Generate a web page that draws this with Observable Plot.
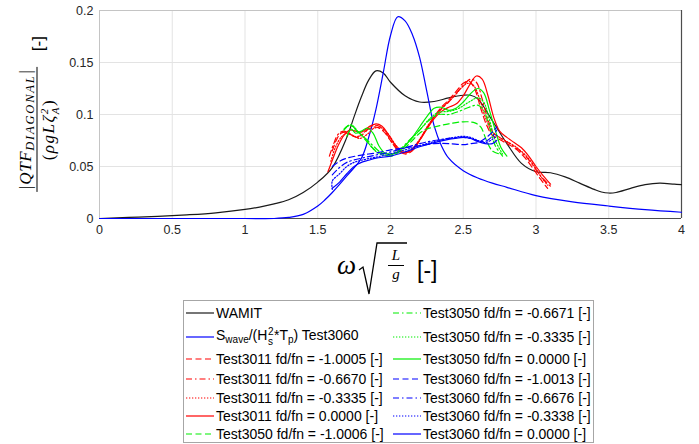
<!DOCTYPE html>
<html>
<head>
<meta charset="utf-8">
<script src="https://cdn.jsdelivr.net/npm/d3@7"></script>
<script src="https://cdn.jsdelivr.net/npm/@observablehq/plot@0.6"></script>
<style>
  body { margin: 0; background: #fff; }
  #wrap { position: relative; width: 699px; height: 444px; overflow: hidden; font-family: "Liberation Sans", Arial, sans-serif; background:#fff; }
  #chart { position: absolute; left: 0; top: 0; }
  #ylab { position: absolute; left: 38px; top: 114px; transform: translate(-50%, -50%) rotate(-90deg);
          display: flex; align-items: center; white-space: nowrap; font-family: "Liberation Serif", serif; color: #000; }
  #ylab .frac { display: flex; flex-direction: column; align-items: center; }
  #ylab .num { font-size: 17px; font-style: italic; line-height: 20px; padding: 0 2px 1px; border-bottom: 1.3px solid #000; letter-spacing: 0.6px; }
  #ylab .num sub { font-size: 12.5px; letter-spacing: 1.8px; vertical-align: -3px; line-height: 0; }
  #ylab .den { font-size: 17px; line-height: 21px; letter-spacing: 1.5px; }
  #ylab .den i { font-style: italic; }
  #ylab .ss { display: inline-flex; flex-direction: column; vertical-align: 6px; font-size: 11px; line-height: 11px; font-style: italic; }
  #ylab .unit { font-family: "Liberation Sans", sans-serif; font-size: 17px; margin-left: 16px; }
  .xl { position: absolute; color: #000; white-space: nowrap; }
  #legend { position: absolute; left: 183px; top: 300px; width: 409px; height: 141px; border: 1px solid #a6a6a6; background: #fff; }
  .lrow { position: absolute; height: 18px; display: flex; align-items: center; font-size: 14px; color: #000; white-space: nowrap; }
  .lrow svg { margin-right: 2px; }
  .hs { display: inline-flex; flex-direction: column; vertical-align: 5px; font-size: 10px; line-height: 10px; margin: 0 0.5px; }
  .lrow sub { font-size: 10px; vertical-align: -3px; line-height: 0; }
</style>
</head>
<body>
<div id="wrap">
  <div id="chart"></div>
  <div id="ylab">
    <div class="frac">
      <div class="num">|QTF<sub>DIAGONAL</sub>|</div>
      <div class="den">(<i>ρgLζ</i><span class="ss"><span>2</span><span>A</span></span>)</div>
    </div>
    <span class="unit">[-]</span>
  </div>
  <div class="xl" style="left:337px;top:252px;font-family:'Liberation Serif',serif;font-style:italic;font-size:27px;line-height:27px;">ω</div>
  <svg class="xl" style="left:357px;top:240px;" width="54" height="58">
    <path d="M2,30 L6,27 L12,54 L20,3 L50,3" fill="none" stroke="#000" stroke-width="1.3"/>
  </svg>
  <div class="xl" style="left:388px;top:248px;width:16px;text-align:center;font-family:'Liberation Serif',serif;font-style:italic;font-size:15px;line-height:15px;">L</div>
  <div class="xl" style="left:388px;top:265px;width:16px;height:0;border-top:1px solid #000;"></div>
  <div class="xl" style="left:388px;top:267px;width:16px;text-align:center;font-family:'Liberation Serif',serif;font-style:italic;font-size:15px;line-height:15px;">g</div>
  <div class="xl" style="left:417px;top:257px;font-family:'Liberation Sans',sans-serif;font-size:23px;line-height:26px;">[-]</div>
  <div id="legend"></div>
</div>
<script>
// ---------- axis ticks ----------
const xTicks = [0, 0.5, 1, 1.5, 2, 2.5, 3, 3.5, 4];
const xTickLabels = ["0", "0.5", "1", "1.5", "2", "2.5", "3", "3.5", "4"];
const yTicks = [0, 0.05, 0.1, 0.15, 0.2];
const yTickLabels = ["0", "0.05", "0.1", "0.15", "0.2"];

// ---------- series values ----------
const wamitX = [0, 0.2, 0.4, 0.6, 0.8, 1.0, 1.1, 1.2, 1.3, 1.4, 1.5, 1.6, 1.7, 1.75, 1.8, 1.85, 1.9, 1.95, 2.0, 2.1, 2.2, 2.3, 2.4, 2.5, 2.55, 2.6, 2.7, 2.8, 2.9, 3.0, 3.1, 3.2, 3.3, 3.4, 3.45, 3.5, 3.55, 3.65, 3.75, 3.85, 3.95, 4.0];
const wamitY = [0, 0.001, 0.002, 0.0035, 0.0055, 0.0087, 0.011, 0.014, 0.018, 0.025, 0.035, 0.049, 0.078, 0.098, 0.117, 0.133, 0.142, 0.140, 0.131, 0.118, 0.112, 0.1125, 0.116, 0.1185, 0.1185, 0.115, 0.094, 0.072, 0.053, 0.045, 0.044, 0.040, 0.034, 0.028, 0.0255, 0.0245, 0.025, 0.029, 0.0325, 0.034, 0.033, 0.0325];

const swaveX = [0, 1.0, 1.2, 1.3, 1.4, 1.5, 1.55, 1.6, 1.7, 1.8, 1.85, 1.9, 1.95, 2.0, 2.05, 2.1, 2.15, 2.2, 2.25, 2.3, 2.35, 2.4, 2.5, 2.6, 2.7, 2.8, 3.0, 3.25, 3.5, 3.75, 4.0];
const swaveY = [0, 0, 0, 0.001, 0.004, 0.012, 0.018, 0.025, 0.041, 0.058, 0.078, 0.105, 0.14, 0.176, 0.194, 0.19, 0.177, 0.155, 0.122, 0.089, 0.07, 0.058, 0.046, 0.039, 0.034, 0.030, 0.022, 0.016, 0.012, 0.0085, 0.006];

const t3011aX = [1.6, 1.63, 1.66, 1.7, 1.75, 1.8, 1.85, 1.9, 1.95, 2.0, 2.05, 2.1, 2.15, 2.2, 2.25, 2.3, 2.35, 2.4, 2.45, 2.5, 2.54, 2.58, 2.62, 2.66, 2.7, 2.75, 2.8, 2.86, 2.92, 2.98, 3.03, 3.08];
const t3011aY = [0.065, 0.076, 0.082, 0.083, 0.079, 0.08, 0.086, 0.088, 0.084, 0.075, 0.066, 0.062, 0.065, 0.075, 0.087, 0.098, 0.107, 0.114, 0.122, 0.13, 0.132, 0.124, 0.106, 0.09, 0.08, 0.076, 0.072, 0.067, 0.059, 0.048, 0.038, 0.029];

const t3011bX = [1.58, 1.61, 1.64, 1.68, 1.72, 1.77, 1.82, 1.87, 1.92, 1.97, 2.02, 2.07, 2.12, 2.17, 2.22, 2.28, 2.34, 2.4, 2.45, 2.5, 2.55, 2.59, 2.63, 2.67, 2.71, 2.76, 2.82, 2.88, 2.94, 3.0, 3.05, 3.1];
const t3011bY = [0.06, 0.072, 0.081, 0.084, 0.081, 0.078, 0.083, 0.089, 0.089, 0.082, 0.071, 0.064, 0.064, 0.07, 0.08, 0.093, 0.104, 0.112, 0.12, 0.128, 0.134, 0.131, 0.115, 0.095, 0.082, 0.077, 0.072, 0.066, 0.058, 0.047, 0.038, 0.031];

const t3011cX = [1.59, 1.62, 1.66, 1.7, 1.74, 1.79, 1.84, 1.89, 1.94, 1.99, 2.04, 2.09, 2.14, 2.2, 2.26, 2.32, 2.38, 2.44, 2.49, 2.53, 2.57, 2.61, 2.65, 2.7, 2.75, 2.8, 2.86, 2.92, 2.98, 3.03, 3.08];
const t3011cY = [0.055, 0.068, 0.078, 0.082, 0.08, 0.077, 0.081, 0.087, 0.087, 0.08, 0.07, 0.064, 0.066, 0.076, 0.09, 0.101, 0.11, 0.118, 0.126, 0.13, 0.128, 0.116, 0.098, 0.083, 0.078, 0.074, 0.069, 0.062, 0.052, 0.041, 0.032];

const t3011dX = [1.57, 1.6, 1.64, 1.68, 1.72, 1.76, 1.8, 1.85, 1.9, 1.94, 1.98, 2.02, 2.06, 2.1, 2.15, 2.2, 2.25, 2.3, 2.35, 2.4, 2.45, 2.5, 2.55, 2.59, 2.63, 2.67, 2.71, 2.75, 2.8, 2.85, 2.9, 2.95, 3.0, 3.05, 3.1];
const t3011dY = [0.045, 0.056, 0.07, 0.08, 0.085, 0.084, 0.083, 0.088, 0.091, 0.089, 0.082, 0.073, 0.066, 0.063, 0.066, 0.075, 0.086, 0.096, 0.103, 0.107, 0.11, 0.118, 0.13, 0.137, 0.134, 0.118, 0.097, 0.084, 0.078, 0.073, 0.068, 0.06, 0.05, 0.041, 0.033];

const t3050aX = [1.68, 1.72, 1.76, 1.8, 1.85, 1.9, 1.95, 2.0, 2.05, 2.1, 2.15, 2.2, 2.25, 2.3, 2.4, 2.5, 2.58, 2.62, 2.66, 2.7, 2.75];
const t3050aY = [0.085, 0.09, 0.086, 0.08, 0.072, 0.065, 0.062, 0.06, 0.063, 0.068, 0.075, 0.082, 0.086, 0.088, 0.091, 0.093, 0.092, 0.088, 0.075, 0.065, 0.062];

const t3050bX = [1.68, 1.72, 1.77, 1.82, 1.88, 1.93, 2.0, 2.06, 2.12, 2.2, 2.27, 2.33, 2.4, 2.47, 2.54, 2.6, 2.64, 2.68, 2.72, 2.77];
const t3050bY = [0.086, 0.09, 0.084, 0.078, 0.07, 0.064, 0.062, 0.066, 0.074, 0.085, 0.095, 0.1, 0.1, 0.103, 0.107, 0.109, 0.104, 0.088, 0.07, 0.06];

const t3050cX = [1.69, 1.73, 1.78, 1.83, 1.88, 1.93, 2.0, 2.06, 2.12, 2.2, 2.27, 2.33, 2.4, 2.47, 2.54, 2.6, 2.64, 2.68, 2.72, 2.77];
const t3050cY = [0.087, 0.09, 0.083, 0.076, 0.067, 0.062, 0.061, 0.065, 0.073, 0.085, 0.096, 0.102, 0.103, 0.106, 0.112, 0.116, 0.112, 0.095, 0.075, 0.062];

const t3050dX = [1.7, 1.73, 1.76, 1.8, 1.84, 1.88, 1.92, 1.96, 2.0, 2.05, 2.1, 2.15, 2.2, 2.25, 2.3, 2.35, 2.4, 2.45, 2.5, 2.55, 2.6, 2.64, 2.68, 2.72, 2.76, 2.8];
const t3050dY = [0.079, 0.086, 0.082, 0.084, 0.087, 0.082, 0.07, 0.063, 0.062, 0.064, 0.07, 0.078, 0.088, 0.098, 0.106, 0.107, 0.104, 0.106, 0.112, 0.12, 0.125, 0.121, 0.104, 0.085, 0.068, 0.06];

const t3060aX = [1.6, 1.65, 1.7, 1.8, 1.9, 2.0, 2.1, 2.2, 2.3, 2.4, 2.5, 2.55, 2.6, 2.65, 2.7, 2.73];
const t3060aY = [0.05, 0.055, 0.058, 0.061, 0.063, 0.066, 0.068, 0.07, 0.072, 0.072, 0.071, 0.072, 0.073, 0.077, 0.083, 0.088];

const t3060bX = [1.6, 1.65, 1.7, 1.8, 1.9, 2.0, 2.1, 2.2, 2.3, 2.4, 2.5, 2.55, 2.6, 2.65, 2.7, 2.73];
const t3060bY = [0.042, 0.049, 0.054, 0.058, 0.061, 0.064, 0.068, 0.072, 0.075, 0.077, 0.078, 0.077, 0.075, 0.074, 0.079, 0.085];

const t3060cX = [1.6, 1.6, 1.65, 1.7, 1.75, 1.8, 1.9, 2.0, 2.1, 2.2, 2.3, 2.4, 2.5, 2.55, 2.6, 2.65, 2.7, 2.73];
const t3060cY = [0.028, 0.036, 0.043, 0.05, 0.054, 0.056, 0.059, 0.062, 0.066, 0.07, 0.074, 0.077, 0.079, 0.078, 0.075, 0.073, 0.076, 0.08];

const t3060dX = [1.6, 1.65, 1.7, 1.75, 1.8, 1.85, 1.9, 2.0, 2.1, 2.2, 2.3, 2.4, 2.5, 2.55, 2.6, 2.65, 2.7, 2.73];
const t3060dY = [0.029, 0.035, 0.043, 0.05, 0.054, 0.056, 0.058, 0.06, 0.064, 0.069, 0.073, 0.076, 0.078, 0.077, 0.074, 0.072, 0.072, 0.075];

// ---------- series labels (legend order, column-major) ----------
const seriesLabels = [
  "WAMIT", "SWAVE",
  "Test3011 fd/fn = -1.0005 [-]", "Test3011 fd/fn = -0.6670 [-]", "Test3011 fd/fn = -0.3335 [-]", "Test3011 fd/fn = 0.0000 [-]",
  "Test3050 fd/fn = -1.0006 [-]", "Test3050 fd/fn = -0.6671 [-]", "Test3050 fd/fn = -0.3335 [-]", "Test3050 fd/fn = 0.0000 [-]",
  "Test3060 fd/fn = -1.0013 [-]", "Test3060 fd/fn = -0.6676 [-]", "Test3060 fd/fn = -0.3338 [-]", "Test3060 fd/fn = 0.0000 [-]"
];
const seriesXs = [wamitX, swaveX, t3011aX, t3011bX, t3011cX, t3011dX, t3050aX, t3050bX, t3050cX, t3050dX, t3060aX, t3060bX, t3060cX, t3060dX];
const seriesYs = [wamitY, swaveY, t3011aY, t3011bY, t3011cY, t3011dY, t3050aY, t3050bY, t3050cY, t3050dY, t3060aY, t3060bY, t3060cY, t3060dY];

// ---------- styles ----------
const RED = "#ff0000", GREEN = "#00ee00", BLUE = "#0000ff", BLACK = "#1a1a1a";
const DASH = "6,3.5", DASHDOT = "6,3,1.5,3", DOT = "1.3,1.7", SOLID = null;
const seriesColors = [BLACK, BLUE, RED, RED, RED, RED, GREEN, GREEN, GREEN, GREEN, BLUE, BLUE, BLUE, BLUE];
const seriesDashes = [SOLID, SOLID, DASH, DASHDOT, DOT, SOLID, DASH, DASHDOT, DOT, SOLID, DASH, DASHDOT, DOT, SOLID];

const seriesData = seriesXs.map((xs, i) => xs.map((x, j) => ({x, y: seriesYs[i][j], s: seriesLabels[i]})));

const lineMarks = seriesData.map((d, i) => Plot.line(d, {
  x: "x", y: "y", stroke: seriesColors[i], strokeWidth: 1.2,
  strokeDasharray: seriesDashes[i] || undefined, curve: "catmull-rom"
}));

const chart = Plot.plot({
  width: 699, height: 240,
  marginLeft: 99, marginRight: 18, marginTop: 10, marginBottom: 22,
  style: { fontFamily: "'Liberation Sans', Arial, sans-serif", fontSize: "12.5px", color: "#262626", background: "transparent", overflow: "visible" },
  x: { domain: [0, 4] },
  y: { domain: [0, 0.2] },
  marks: [
    Plot.gridX(xTicks, { stroke: "#e3e3e3", strokeOpacity: 1 }),
    Plot.gridY(yTicks, { stroke: "#e3e3e3", strokeOpacity: 1 }),
    Plot.ruleX([0], { stroke: "#c4c4c4", strokeWidth: 1 }),
    Plot.ruleY([0.2], { stroke: "#c4c4c4", strokeWidth: 1 }),
    Plot.ruleX([4], { stroke: "#4d4d4d", strokeWidth: 1.2 }),
    Plot.ruleY([0], { stroke: "#4d4d4d", strokeWidth: 1 }),
    ...lineMarks,
    Plot.axisX({ ticks: xTicks, tickSize: 0, tickPadding: 7, label: null, tickFormat: (d, i) => xTickLabels[i] }),
    Plot.axisY({ ticks: yTicks, tickSize: 0, tickPadding: 6, label: null, tickFormat: (d, i) => yTickLabels[i] })
  ]
});
document.getElementById("chart").appendChild(chart);

// ---------- legend ----------
const legend = document.getElementById("legend");
const rowCenters = [12, 36, 58, 78, 97, 115, 133];
const colLeft = [2, 209];
seriesLabels.forEach((lab, i) => {
  const col = Math.floor(i / 7), row = i % 7;
  const div = document.createElement("div");
  div.className = "lrow";
  div.style.left = colLeft[col] + "px";
  div.style.top = (rowCenters[row] - 9) + "px";
  const dash = seriesDashes[i] ? ` stroke-dasharray="${seriesDashes[i]}"` : "";
  const sample = `<svg width="28" height="18"><line x1="0" x2="28" y1="9" y2="9" stroke="${seriesColors[i]}" stroke-width="1.2"${dash}/></svg>`;
  let text = lab;
  if (lab === "SWAVE") {
    text = `S<sub>wave</sub>/(H<span class="hs"><span>2</span><span>s</span></span>*T<sub>p</sub>) Test3060`;
  }
  div.innerHTML = sample + `<span>${text}</span>`;
  legend.appendChild(div);
});
</script>
</body>
</html>
